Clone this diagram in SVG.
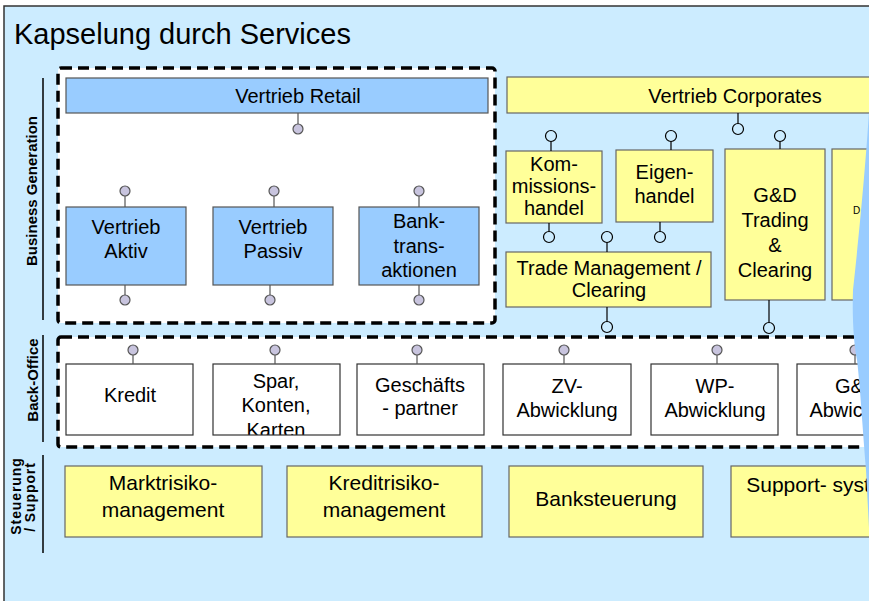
<svg xmlns="http://www.w3.org/2000/svg" width="869" height="601" viewBox="0 0 869 601">
<style>
 text{font-family:"Liberation Sans",Arial,sans-serif;fill:#000}
 .t{font-size:20px;text-anchor:middle}
 .s{font-size:21px;text-anchor:middle}
 .lane{font-size:15px;font-weight:bold;text-anchor:middle}
 .lane2{font-size:14px;font-weight:bold;text-anchor:middle;letter-spacing:0.9px}
 .blue{fill:#99ccff;stroke:#555;stroke-width:1.2}
 .yel{fill:#ffff99;stroke:#666;stroke-width:1.2}
 .wht{fill:#fff;stroke:#333;stroke-width:1.2}
 .dash{fill:#fff;stroke:#000;stroke-width:3.5;stroke-dasharray:11 6}
 .sep{stroke:#000;stroke-width:1.5}
 .lp line{stroke:#555;stroke-width:1.2}
 .lp circle{fill:#c8c4de;stroke:#555;stroke-width:1.2}
 .lc line{stroke:#000;stroke-width:1.2}
 .lc circle{fill:none;stroke:#000;stroke-width:1.2}
</style>
<defs>
 <clipPath id="cSpar"><rect x="213" y="364" width="127" height="71"/></clipPath>
</defs>
<rect x="0" y="0" width="869" height="601" fill="#fff"/>
<rect x="4" y="6" width="900" height="620" fill="#ccecff" stroke="#333" stroke-width="1.5"/>
<g id="title"><text x="14" y="44" style="font-size:29px">Kapselung durch Services</text></g>

<g id="lanes">
 <line class="sep" x1="43" y1="78" x2="43" y2="320"/>
 <line class="sep" x1="43" y1="335" x2="43" y2="442"/>
 <line class="sep" x1="43" y1="455" x2="43" y2="553"/>
 <text class="lane" transform="translate(37,191) rotate(-90)">Business Generation</text>
 <text class="lane" transform="translate(38,380) rotate(-90)">Back-Office</text>
 <text class="lane2" transform="translate(21,496) rotate(-90)">Steuerung</text>
 <text class="lane2" transform="translate(35,497) rotate(-90)">/ Support</text>
</g>

<g id="business-generation-retail"><rect class="dash" x="58" y="68" width="437" height="255" rx="3"/></g>
<g id="back-office"><rect class="dash" x="58" y="337" width="850" height="110" rx="3"/></g>

<g id="vertrieb-retail"><rect class="blue" x="66" y="78" width="422" height="35"/><text class="t" x="298" y="103">Vertrieb Retail</text></g>
<g id="vertrieb-aktiv"><rect class="blue" x="66" y="207" width="120" height="78"/><text class="t" x="126" y="234">Vertrieb</text><text class="t" x="126" y="258">Aktiv</text></g>
<g id="vertrieb-passiv"><rect class="blue" x="213" y="207" width="120" height="78"/><text class="t" x="273" y="234">Vertrieb</text><text class="t" x="273" y="258">Passiv</text></g>
<g id="banktransaktionen"><rect class="blue" x="359" y="207" width="120" height="78"/><text class="t" x="419" y="228">Bank-</text><text class="t" x="419" y="253">trans-</text><text class="t" x="419" y="277">aktionen</text></g>

<g id="vertrieb-corporates"><rect class="yel" x="507" y="77" width="400" height="36"/><text class="t" x="735" y="103">Vertrieb Corporates</text></g>
<g id="kommissionshandel"><rect class="yel" x="506" y="151" width="96" height="72"/><text class="t" x="554" y="171">Kom-</text><text class="t" x="554" y="193">missions-</text><text class="t" x="554" y="215">handel</text></g>
<g id="eigenhandel"><rect class="yel" x="616" y="150" width="97" height="72"/><text class="t" x="664.5" y="179">Eigen-</text><text class="t" x="664.5" y="203">handel</text></g>
<g id="trade-management"><rect class="yel" x="506" y="252" width="205" height="55"/><text class="t" x="609" y="275">Trade Management /</text><text class="t" x="609" y="297">Clearing</text></g>
<g id="gd-trading"><rect class="yel" x="725" y="149" width="100" height="151"/><text class="t" x="775" y="202">G&amp;D</text><text class="t" x="775" y="227">Trading</text><text class="t" x="775" y="252">&amp;</text><text class="t" x="775" y="277">Clearing</text></g>
<g id="d-box"><rect class="yel" x="832" y="149" width="100" height="151"/><text x="853" y="214" style="font-size:10px">D</text></g>

<g id="kredit"><rect class="wht" x="66" y="364" width="127" height="71"/><text class="t" x="130" y="402">Kredit</text></g>
<g id="spar"><rect fill="#fff" x="213" y="364" width="127" height="71"/><g clip-path="url(#cSpar)"><text class="t" x="276" y="388">Spar,</text><text class="t" x="276" y="412">Konten,</text><text class="t" x="276" y="437">Karten</text></g><rect class="wht" style="fill:none" x="213" y="364" width="127" height="71"/></g>
<g id="geschaeftspartner"><rect class="wht" x="357" y="364" width="127" height="71"/><text class="t" x="420" y="392">Geschäfts</text><text class="t" x="420" y="415">- partner</text></g>
<g id="zv-abwicklung"><rect class="wht" x="503" y="364" width="128" height="71"/><text class="t" x="567" y="393">ZV-</text><text class="t" x="567" y="417">Abwicklung</text></g>
<g id="wp-abwicklung"><rect class="wht" x="651" y="364" width="127" height="71"/><text class="t" x="715" y="393">WP-</text><text class="t" x="715" y="417">Abwicklung</text></g>
<g id="gd-abwicklung"><rect class="wht" x="797" y="364" width="127" height="71"/><text class="t" x="860" y="393">G&amp;D-</text><text class="t" x="860" y="417">Abwicklung</text></g>

<g id="marktrisiko"><rect class="yel" x="65" y="466" width="197" height="71"/><text class="s" x="163" y="490">Marktrisiko-</text><text class="s" x="163" y="517">management</text></g>
<g id="kreditrisiko"><rect class="yel" x="287" y="466" width="195" height="71"/><text class="s" x="384" y="490">Kreditrisiko-</text><text class="s" x="384" y="517">management</text></g>
<g id="banksteuerung"><rect class="yel" x="509" y="466" width="194" height="71"/><text class="s" x="606" y="506">Banksteuerung</text></g>
<g id="supportsysteme"><rect class="yel" x="731" y="466" width="195" height="71"/><text class="s" x="828.5" y="492">Support- systeme</text></g>

<g id="connectors">
 <g class="lp">
  <line x1="298" y1="113" x2="298" y2="124"/><circle cx="298" cy="129" r="5"/>
  <line x1="125" y1="196" x2="125" y2="207"/><circle cx="125" cy="191" r="5"/>
  <line x1="125" y1="285" x2="125" y2="295"/><circle cx="125" cy="300" r="5"/>
  <line x1="274" y1="196" x2="274" y2="207"/><circle cx="274" cy="191" r="5"/>
  <line x1="270" y1="285" x2="270" y2="295"/><circle cx="270" cy="300" r="5"/>
  <line x1="419" y1="196" x2="419" y2="207"/><circle cx="419" cy="191" r="5"/>
  <line x1="419" y1="285" x2="419" y2="295"/><circle cx="419" cy="300" r="5"/>
  <line x1="133" y1="355" x2="133" y2="364"/><circle cx="133" cy="350" r="5"/>
  <line x1="275" y1="355" x2="275" y2="364"/><circle cx="275" cy="350" r="5"/>
  <line x1="417" y1="355" x2="417" y2="364"/><circle cx="417" cy="350" r="5"/>
  <line x1="564" y1="355" x2="564" y2="364"/><circle cx="564" cy="350" r="5"/>
  <line x1="717" y1="355" x2="717" y2="364"/><circle cx="717" cy="350" r="5"/>
  <line x1="855" y1="355" x2="855" y2="364"/><circle cx="855" cy="350" r="5"/>
 </g>
 <g class="lc">
  <line x1="738" y1="113" x2="738" y2="123.5"/><circle cx="738" cy="129" r="5.5"/>
  <line x1="551" y1="141.5" x2="551" y2="151"/><circle cx="551" cy="136" r="5.5"/>
  <line x1="549" y1="223" x2="549" y2="231.5"/><circle cx="549" cy="237" r="5.5"/>
  <line x1="671" y1="141.5" x2="671" y2="150"/><circle cx="671" cy="136" r="5.5"/>
  <line x1="660" y1="222" x2="660" y2="231.5"/><circle cx="660" cy="237" r="5.5"/>
  <line x1="607" y1="242.5" x2="607" y2="252"/><circle cx="607" cy="237" r="5.5"/>
  <line x1="607" y1="307" x2="607" y2="321.5"/><circle cx="607" cy="327" r="5.5"/>
  <line x1="780" y1="141.5" x2="780" y2="149"/><circle cx="780" cy="136" r="5.5"/>
  <line x1="769" y1="300" x2="769" y2="322.5"/><circle cx="769" cy="328" r="5.5"/>
 </g>
</g>

<g id="wedge"><path d="M869,112 C866,160 860,227 853,290 C852,320 854,345 857,360 C860,385 862,420 866,470 L869,528 Z" fill="#99ccff"/></g>
</svg>
